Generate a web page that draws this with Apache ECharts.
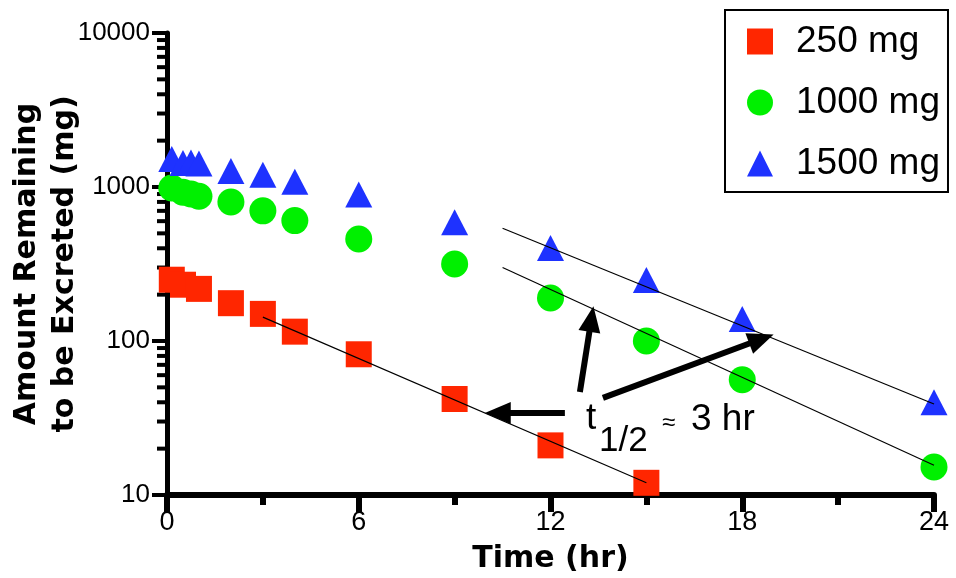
<!DOCTYPE html>
<html>
<head>
<meta charset="utf-8">
<script src="https://cdn.jsdelivr.net/npm/echarts@6/dist/echarts.min.js"></script>
<style>
  html, body { margin: 0; padding: 0; background: #fff; }
  #main { width: 956px; height: 578px; }
</style>
</head>
<body>
<div id="main"></div>
<script>
// sample times (hr) and amounts remaining (mg)
var times250 = [0.15, 0.5, 1, 2, 3, 4, 6, 9, 12, 15];
var amt250 = [250, 232, 218, 176, 150, 115, 82, 42, 21, 12];
var times1000 = [0.15, 0.5, 0.75, 1, 2, 3, 4, 6, 9, 12, 15, 18, 24];
var amt1000 = [985, 925, 900, 870, 800, 700, 605, 460, 316, 190, 100, 56, 15.2];
var times1500 = [0.15, 0.5, 0.75, 1, 2, 3, 4, 6, 9, 12, 15, 18, 24];
var amt1500 = [1520, 1430, 1440, 1420, 1270, 1200, 1080, 895, 590, 402, 249, 139, 40];

// terminal-phase fit lines (start / end points)
var fit250 = [[3, 143], [15, 12]];
var fit1000 = [[10.5, 300], [24, 15.6]];
var fit1500 = [[10.5, 540], [24, 39]];

var xTicks = [0, 6, 12, 18, 24];
var yMinorTicks = [20, 30, 40, 50, 60, 70, 80, 90, 200, 300, 400, 500, 600, 700, 800, 900,
  2000, 3000, 4000, 5000, 6000, 7000, 8000, 9000];

var TITLE_FONT = 'DejaVu Sans';
var FONT = 'Liberation Sans';

function pairs(xs, ys) {
  return xs.map(function (x, i) { return [x, ys[i]]; });
}

var chart = echarts.init(document.getElementById('main'));

var arrowStyle = { color: '#000', width: 6, type: 'solid' };

chart.setOption({
  animation: false,
  backgroundColor: '#fff',
  grid: { left: 167, right: 22, top: 33, bottom: 83, outerBoundsMode: 'none', containLabel: false },
  legend: {
    orient: 'vertical',
    left: 725,
    top: 10,
    padding: [13, 8, 10, 22],
    borderColor: '#000',
    borderWidth: 2,
    itemWidth: 26,
    itemHeight: 26,
    itemGap: 24,
    textStyle: { fontFamily: FONT, fontSize: 37, lineHeight: 36, color: '#000', padding: [0, 0, 0, 18] },
    data: [
      { name: '250 mg', icon: 'rect' },
      { name: '1000 mg', icon: 'circle' },
      { name: '1500 mg', icon: 'triangle' }
    ]
  },
  xAxis: {
    type: 'value',
    min: 0,
    max: 24,
    interval: 6,
    name: 'Time (hr)',
    nameLocation: 'middle',
    nameGap: 49,
    nameMoveOverlap: false,
    nameTextStyle: { fontFamily: TITLE_FONT, fontSize: 30, fontWeight: 'bold', color: '#000' },
    axisLine: { lineStyle: { color: '#000', width: 6 } },
    axisTick: { length: 17, lineStyle: { color: '#000', width: 6 } },
    minorTick: { show: true, splitNumber: 2, length: 10, lineStyle: { color: '#000', width: 6 } },
    axisLabel: {
      fontFamily: FONT, fontSize: 27, color: '#000', margin: 14,
      formatter: function (v) { return xTicks.indexOf(v) >= 0 ? String(v) : ''; }
    },
    splitLine: { show: false }
  },
  yAxis: {
    type: 'log',
    logBase: 10,
    min: 10,
    max: 10000,
    splitNumber: 3,
    name: 'Amount Remaining\nto be Excreted (mg)',
    nameLocation: 'middle',
    nameRotate: 90,
    nameGap: 83,
    nameMoveOverlap: false,
    nameTextStyle: { fontFamily: TITLE_FONT, fontSize: 30, fontWeight: 'bold', color: '#000', lineHeight: 38 },
    axisLine: { lineStyle: { color: '#000', width: 5 } },
    axisTick: { length: 15, lineStyle: { color: '#000', width: 4 } },
    axisLabel: {
      fontFamily: FONT, fontSize: 26, color: '#000', margin: 17,
      formatter: function (v) { return String(Math.round(v)); }
    },
    splitLine: { show: false }
  },
  graphic: [
    { type: 'text', left: 586, top: 400, style: { text: 't', font: '37px "Liberation Sans"', fill: '#000' } },
    { type: 'text', left: 599, top: 424, style: { text: '1/2', font: '35px "Liberation Sans"', fill: '#000' } },
    { type: 'text', left: 662, top: 411, style: { text: '\u2248', font: '24px "Liberation Sans"', fill: '#000' } },
    { type: 'text', left: 691, top: 401, style: { text: '3 hr', font: '37px "Liberation Sans"', fill: '#000' } }
  ],
  series: [
    // minor ticks of the log axis at 2..9 per decade
    {
      name: 'minor', type: 'scatter', silent: true, clip: false, z: 1,
      symbol: 'rect', symbolSize: [8, 4], symbolOffset: [-6, 0],
      itemStyle: { color: '#000', opacity: 1 },
      data: yMinorTicks.map(function (v) { return [0, v]; })
    },
    {
      name: 'fit250', type: 'line', data: fit250, showSymbol: false, silent: true, z: 3,
      lineStyle: { color: '#000', width: 1.2 }
    },
    {
      name: 'fit1000', type: 'line', data: fit1000, showSymbol: false, silent: true, z: 3,
      lineStyle: { color: '#000', width: 1.2 }
    },
    {
      name: 'fit1500', type: 'line', data: fit1500, showSymbol: false, silent: true, z: 3,
      lineStyle: { color: '#000', width: 1.2 }
    },
    {
      name: '250 mg', type: 'scatter', symbol: 'rect', symbolSize: 26, clip: false,
      itemStyle: { color: '#ff2600', opacity: 1 },
      data: pairs(times250, amt250)
    },
    {
      name: '1000 mg', type: 'scatter', symbol: 'circle', symbolSize: 27, clip: false,
      itemStyle: { color: '#00f000', opacity: 1 },
      data: pairs(times1000, amt1000)
    },
    {
      name: '1500 mg', type: 'scatter', symbol: 'triangle', symbolSize: [27, 26], clip: false,
      itemStyle: { color: '#1e32ff', opacity: 1 },
      data: pairs(times1500, amt1500)
    },
    // half-life arrows
    {
      name: 'arrows', type: 'line', data: [], silent: true, z: 4,
      markLine: {
        silent: true,
        symbol: ['none', 'triangle'],
        symbolSize: [22, 26],
        label: { show: false },
        lineStyle: arrowStyle,
        data: [
          [{ coord: [12.45, 34.1] }, { coord: [10.35, 34.1] }],
          [{ coord: [12.92, 46.7] }, { coord: [13.28, 139] }],
          [{ coord: [13.64, 42.7] }, { coord: [18.6, 103] }]
        ]
      }
    }
  ]
});

window.addEventListener('resize', function () { chart.resize(); });
</script>
</body>
</html>
